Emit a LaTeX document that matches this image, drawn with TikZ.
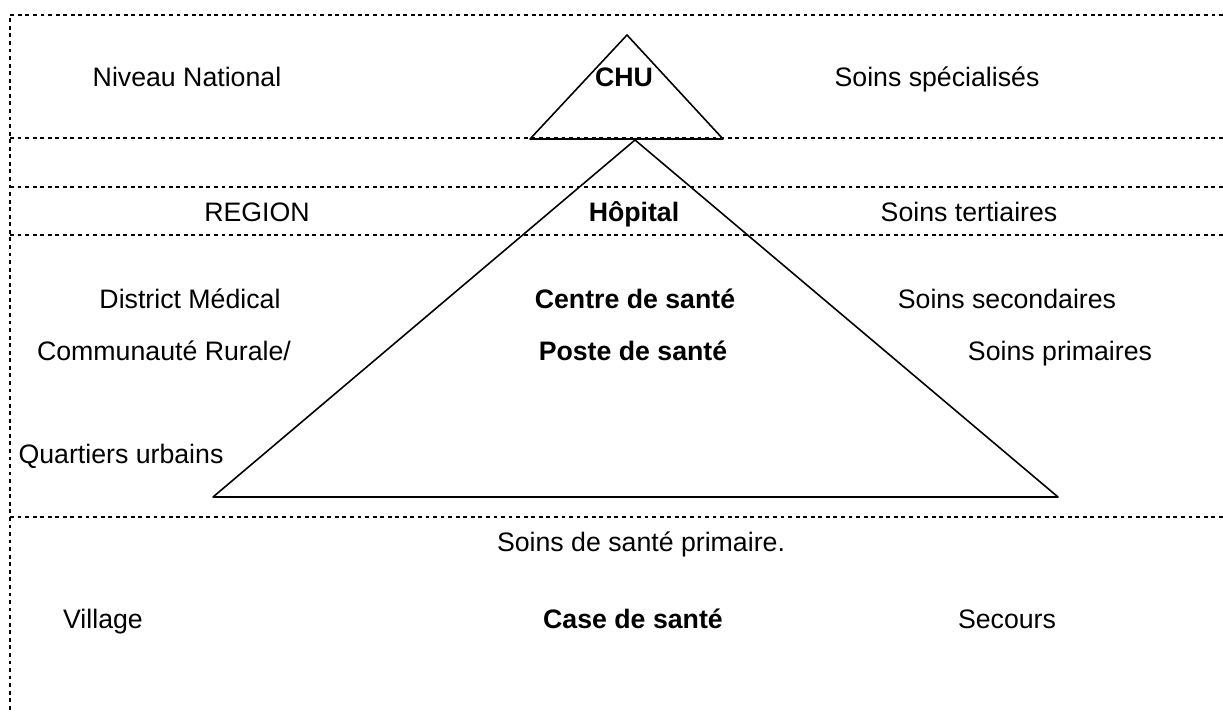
\documentclass[tikz,border=0pt]{standalone}
\usepackage{fontspec}
\usepackage{tkz-euclide}
\setmainfont{Liberation Sans}

\tikzset{
    sep/.style = {line width = 0.9pt, dash pattern = on 2.2pt off 2.1pt},
    level/.style = {font = \fontsize{15.2}{18}\selectfont, inner sep = 0pt, anchor = base},
    unit/.style = {level, font = \fontsize{15.2}{18}\selectfont\bfseries}
}

\begin{document}
\begin{tikzpicture}[x = 0.02cm, y = -0.02cm]
    \useasboundingbox (0,0) rectangle (1223,713);
    % frame and level separators
    \tkzDefPoints{10/15/TL, 1223/15/TR, 10/713/BL}
    \draw[sep] (TR) -- (TL) -- (BL);
    \foreach \h in {138, 187, 235, 517}
        \draw[sep] (10,\h) -- (1223,\h);
    % pyramids
    \tkzDefPoints{627/35/C, 530/139/A, 723/139/B}
    \tkzDefPoints{635/140/P, 213/497/L, 1058/497/R}
    \tkzDrawPolygon[line width = 0.9pt](A,B,C)
    \tkzDrawPolygon[line width = 0.9pt](L,R,P)
    % labels
    \node[level] (nat)   at (187,87)  {Niveau National};
    \node[unit]  (chu)   at (624,87)  {CHU};
    \node[level] (spec)  at (937,87)  {Soins spécialisés};
    \node[level] (reg)   at (257,221) {REGION};
    \node[unit]  (hop)   at (634,221) {Hôpital};
    \node[level] (tert)  at (969,221) {Soins tertiaires};
    \node[level] (dist)  at (190,308) {District Médical};
    \node[unit]  (cs)    at (635,308) {Centre de santé};
    \node[level] (sec)   at (1007,308) {Soins secondaires};
    \node[level] (comm)  at (164,360) {Communauté Rurale/};
    \node[unit]  (ps)    at (633,360) {Poste de santé};
    \node[level] (prim)  at (1060,360) {Soins primaires};
    \node[level] (quart) at (121,463) {Quartiers urbains};
    \node[level] (ssp)   at (641,551) {Soins de santé primaire.};
    \node[level] (vil)   at (103,628) {Village};
    \node[unit]  (case)  at (633,628) {Case de santé};
    \node[level] (secr)  at (1007,628) {Secours};
\end{tikzpicture}
\end{document}
